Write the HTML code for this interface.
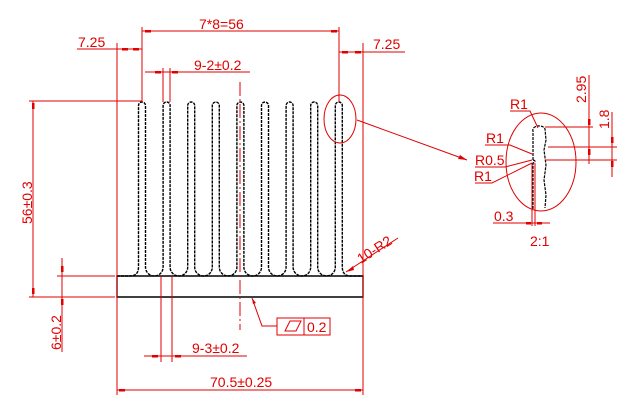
<!DOCTYPE html>
<html><head><meta charset="utf-8"><style>
html,body{margin:0;padding:0;background:#fff;}
svg{display:block;}
text{font-family:"Liberation Sans",sans-serif;fill:#e00000;font-size:14px;}
</style></head><body>
<svg width="630" height="404" viewBox="0 0 630 404" xmlns="http://www.w3.org/2000/svg">
<g fill="none" stroke="#000" stroke-width="1.4" stroke-dasharray="3,1">
<path d="M117,276 L130,276 Q138.5,276 138.5,267 L138.5,105.5 A3.5,3.5 0 0 1 145.5,105.5 L145.5,267.2 A8.8,8.8 0 0 0 163.1,267.2 L163.1,105.5 A3.5,3.5 0 0 1 170.1,105.5 L170.1,267.2 A8.8,8.8 0 0 0 187.7,267.2 L187.7,105.5 A3.5,3.5 0 0 1 194.7,105.5 L194.7,267.2 A8.8,8.8 0 0 0 212.3,267.2 L212.3,105.5 A3.5,3.5 0 0 1 219.3,105.5 L219.3,267.2 A8.8,8.8 0 0 0 236.9,267.2 L236.9,105.5 A3.5,3.5 0 0 1 243.9,105.5 L243.9,267.2 A8.8,8.8 0 0 0 261.5,267.2 L261.5,105.5 A3.5,3.5 0 0 1 268.5,105.5 L268.5,267.2 A8.8,8.8 0 0 0 286.1,267.2 L286.1,105.5 A3.5,3.5 0 0 1 293.1,105.5 L293.1,267.2 A8.8,8.8 0 0 0 310.7,267.2 L310.7,105.5 A3.5,3.5 0 0 1 317.7,105.5 L317.7,267.2 A8.8,8.8 0 0 0 335.3,267.2 L335.3,105.5 A3.5,3.5 0 0 1 342.3,105.5 L342.3,267 Q342.3,276 351,276 L363,276"/>
</g>
<g fill="none" stroke="#000" stroke-width="1.4">
<path d="M117,276 L363,276 L363,297 L117,297 Z"/>
</g>
<g fill="none" stroke="#000" stroke-width="1.2" stroke-dasharray="3,1">
<path d="M533,160 L533,131 A6,4 0 0 1 545,129 L546,140 L544,150 L546,165 L544,180 L546,195 L545,208"/>
<path d="M533,160 Q537,161 533,163 L533,210"/>
</g>
<g fill="none" stroke="#e00000" stroke-width="1">
<line x1="142" y1="27" x2="142" y2="102"/>
<line x1="339" y1="27" x2="339" y2="102"/>
<line x1="142" y1="31" x2="339" y2="31"/>
<line x1="117" y1="43" x2="117" y2="395"/>
<line x1="363" y1="43" x2="363" y2="395"/>
<line x1="77" y1="49" x2="142" y2="49"/>
<line x1="339" y1="52" x2="405" y2="52"/>
<line x1="163" y1="68" x2="163" y2="102"/>
<line x1="170" y1="68" x2="170" y2="102"/>
<line x1="145" y1="72" x2="250" y2="72"/>
<line x1="240" y1="82" x2="240" y2="330" stroke-dasharray="14,3,2,3"/>
<line x1="29" y1="101" x2="142" y2="101"/>
<line x1="29" y1="297" x2="115" y2="297"/>
<line x1="57" y1="276" x2="115" y2="276"/>
<line x1="33" y1="101" x2="33" y2="297"/>
<line x1="62" y1="258" x2="62" y2="352"/>
<line x1="161" y1="276" x2="161" y2="362"/>
<line x1="172" y1="276" x2="172" y2="362"/>
<line x1="144" y1="356" x2="247" y2="356"/>
<line x1="117" y1="390" x2="363" y2="390"/>
<polyline points="252,298 262,326 277,326"/>
<rect x="277" y="318" width="53" height="17"/>
<line x1="304" y1="318" x2="304" y2="335"/>
<polygon points="285,331 290,321 301,321 296,331"/>
<line x1="346" y1="272" x2="398" y2="238"/>
<ellipse cx="340" cy="119" rx="16" ry="24"/>
<line x1="357" y1="120" x2="467" y2="160"/>
<ellipse cx="541" cy="162" rx="35" ry="49"/>
<line x1="545" y1="127" x2="593" y2="127"/>
<line x1="548" y1="147" x2="617" y2="147"/>
<line x1="545" y1="160" x2="617" y2="160"/>
<line x1="589" y1="75" x2="589" y2="164"/>
<line x1="612" y1="112" x2="612" y2="177"/>
<polyline points="510,111 530,111 538,128"/>
<polyline points="485,145 510,145 532,154"/>
<polyline points="475,167 505,167 532,160"/>
<polyline points="475,183 492,183 532,163"/>
<line x1="532" y1="163" x2="532" y2="226"/>
<line x1="535" y1="163" x2="535" y2="226"/>
<line x1="493" y1="223" x2="550" y2="223"/>
</g>
<g fill="#e00000">
<rect x="145" y="30" width="6" height="2.5"/><rect x="331" y="30" width="6" height="2.5"/>
<rect x="122" y="48" width="6" height="2.5"/><rect x="133" y="48" width="6" height="2.5"/>
<rect x="342" y="51" width="6" height="2.5"/><rect x="355" y="51" width="6" height="2.5"/>
<rect x="155" y="71" width="6" height="2.5"/><rect x="172" y="71" width="6" height="2.5"/>
<rect x="32" y="103" width="2.5" height="6"/><rect x="32" y="288" width="2.5" height="6"/>
<rect x="61" y="266" width="2.5" height="6"/><rect x="61" y="299" width="2.5" height="6"/>
<rect x="152" y="355" width="6" height="2.5"/><rect x="175" y="355" width="6" height="2.5"/>
<rect x="119" y="389" width="6" height="2.5"/><rect x="355" y="389" width="6" height="2.5"/>
<polygon points="252,298 256,303 253,304"/>
<polygon points="346,272 353,266 354,270"/>
<polygon points="467,160 458,159 460,155"/>
<rect x="588" y="119" width="2.5" height="6"/><rect x="588" y="149" width="2.5" height="6"/>
<rect x="611" y="137" width="2.5" height="6"/><rect x="611" y="161" width="2.5" height="6"/>
<rect x="526" y="222" width="5" height="2.5"/><rect x="537" y="222" width="5" height="2.5"/>
</g>
<g>
<text x="199" y="29">7*8=56</text>
<text x="78" y="47">7.25</text>
<text x="373" y="49">7.25</text>
<text x="194" y="70">9-2±0.2</text>
<text x="192" y="353">9-3±0.2</text>
<text x="210" y="387">70.5±0.25</text>
<text x="307" y="332">0.2</text>
<text transform="translate(32,224) rotate(-90)">56±0.3</text>
<text transform="translate(61,350) rotate(-90)">6±0.2</text>
<text transform="translate(361,264) rotate(-33)" font-size="13">10-R2</text>
<text x="510" y="109">R1</text>
<text x="486" y="143">R1</text>
<text x="475" y="165">R0.5</text>
<text x="474" y="181">R1</text>
<text x="494" y="221">0.3</text>
<text x="530" y="246">2:1</text>
<text transform="translate(586,103) rotate(-90)" font-size="13">2.95</text>
<text transform="translate(609,129) rotate(-90)" font-size="13">1.8</text>
</g>
</svg>
</body></html>
